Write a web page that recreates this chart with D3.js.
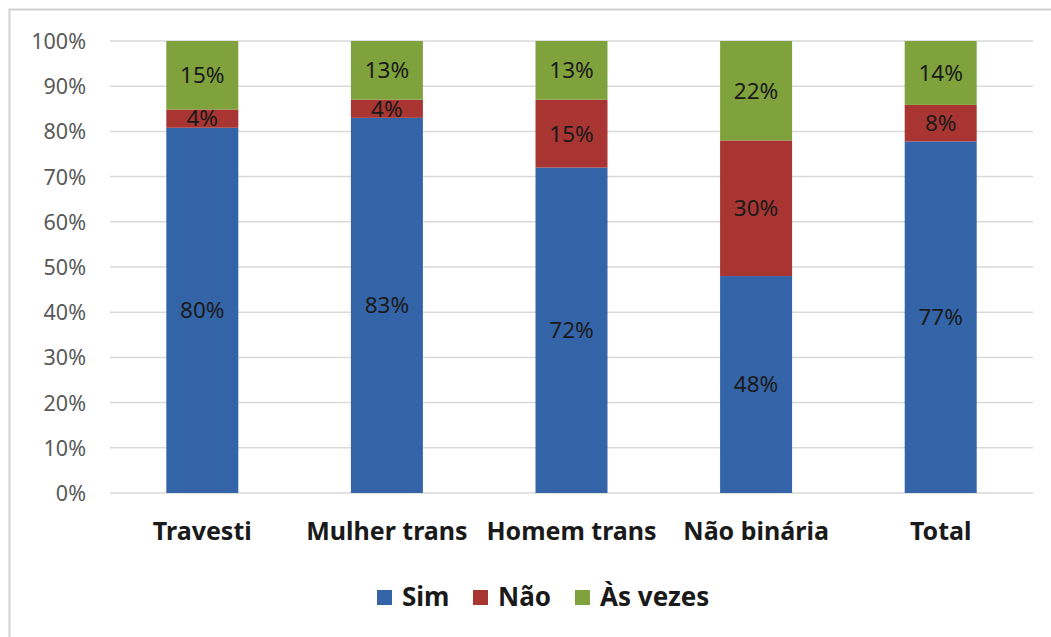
<!DOCTYPE html>
<html>
<head>
<meta charset="utf-8">
<script src="https://cdn.jsdelivr.net/npm/d3@7"></script>
<style>
  html, body { margin: 0; padding: 0; background: #fff; }
  svg { display: block; }
</style>
</head>
<body>
<svg id="chart" width="1051" height="637"></svg>
<script>
// Response categories and per-group shares (%)
const categories = ["Travesti", "Mulher trans", "Homem trans", "Não binária", "Total"];
const seriesNames = ["Sim", "Não", "Às vezes"];
const sim      = [80, 83, 72, 48, 77];
const nao      = [4, 4, 15, 30, 8];
const asVezes  = [15, 13, 13, 22, 14];
const yTicks   = [0, 10, 20, 30, 40, 50, 60, 70, 80, 90, 100];
const colors   = ["#3464a8", "#a83532", "#7fa23d"];

const rows = categories.map((c, i) => ({
  category: c, "Sim": sim[i], "Não": nao[i], "Às vezes": asVezes[i]
}));

const svg = d3.select("#chart");
const W = 1051, H = 637;
const font = "'Noto Sans', 'Open Sans', sans-serif";

// Outer frame (left and top edges visible)
svg.append("path")
  .attr("d", `M9.5,${H} V9.5 H${W}`)
  .attr("fill", "none").attr("stroke", "#d0d0d0").attr("stroke-width", 2);

const x = d3.scaleBand().domain(categories).range([110, 1033])
  .paddingInner(0.61).paddingOuter(0.305);
const y = d3.scaleLinear().domain([0, 1]).range([493, 41]);

// 100% stacked layout
const stack = d3.stack().keys(seriesNames).offset(d3.stackOffsetExpand);
const layers = stack(rows);

// Gridlines
svg.append("g").selectAll("line").data(yTicks).join("line")
  .attr("x1", 110).attr("x2", 1033)
  .attr("y1", d => y(d / 100)).attr("y2", d => y(d / 100))
  .attr("stroke", "#d9d9d9").attr("stroke-width", 1.5);

// Y axis labels
const yAxis = d3.axisLeft(y).tickValues(yTicks.map(d => d / 100))
  .tickFormat(d3.format(".0%")).tickSize(0).tickPadding(0);
const yg = svg.append("g").attr("transform", "translate(86,0)").call(yAxis);
yg.select(".domain").remove();
yg.selectAll("text").attr("font-family", font).attr("font-size", 21.5)
  .attr("fill", "#595959").attr("dy", "0.35em");

// Bars
const g = svg.append("g");
layers.forEach((layer, li) => {
  g.append("g").selectAll("rect").data(layer).join("rect")
    .attr("x", d => x(d.data.category))
    .attr("width", x.bandwidth())
    .attr("y", d => y(d[1]))
    .attr("height", d => y(d[0]) - y(d[1]))
    .attr("fill", colors[li]);
});

// Data labels
layers.forEach((layer) => {
  const key = layer.key;
  g.append("g").selectAll("text").data(layer).join("text")
    .attr("x", d => x(d.data.category) + x.bandwidth() / 2)
    .attr("y", d => (y(d[0]) + y(d[1])) / 2)
    .attr("dy", "0.35em")
    .attr("text-anchor", "middle")
    .attr("font-family", font).attr("font-size", 22.5)
    .attr("fill", "#1a1a1a")
    .text(d => d.data[key] + "%");
});

// Category axis labels
const xAxis = d3.axisBottom(x).tickSize(0).tickPadding(0);
const xg = svg.append("g").attr("transform", "translate(0,531)").call(xAxis);
xg.select(".domain").remove();
xg.selectAll("text").attr("font-family", font).attr("font-size", 25)
  .attr("font-weight", "bold").attr("fill", "#1a1a1a").attr("dy", "0.35em");

// Legend
const legendX = [377, 473, 575];
const lg = svg.append("g");
seriesNames.forEach((name, i) => {
  lg.append("rect").attr("x", legendX[i]).attr("y", 590)
    .attr("width", 15).attr("height", 15).attr("fill", colors[i]);
  lg.append("text").attr("x", legendX[i] + 25).attr("y", 597)
    .attr("dy", "0.35em")
    .attr("font-family", font).attr("font-size", 26).attr("font-weight", "bold")
    .attr("fill", "#1a1a1a").text(name);
});
</script>
</body>
</html>
